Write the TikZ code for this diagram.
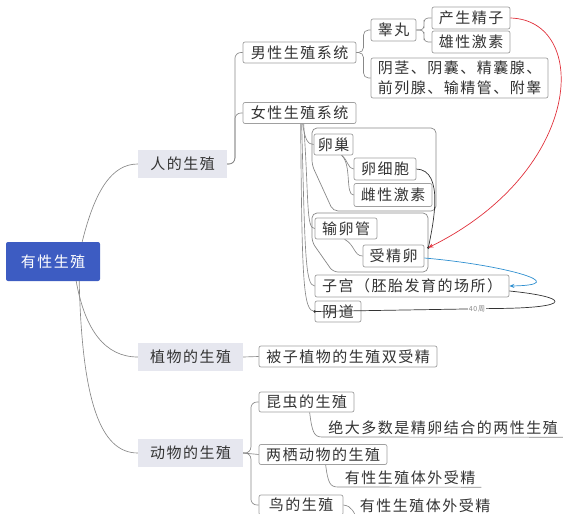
\documentclass[tikz,border=0pt]{standalone}
\usepackage{fontspec}
\newfontfamily\cjk[LetterSpace=10]{Noto Sans CJK SC}
\usetikzlibrary{calc,arrows.meta}
\definecolor{rootblue}{HTML}{3D5CC2}
\definecolor{gfill}{HTML}{E6E7EF}
\definecolor{bord}{HTML}{A0A0A0}
\definecolor{lin}{HTML}{888888}
\definecolor{txt}{HTML}{333333}
\definecolor{redl}{HTML}{E0303A}
\definecolor{bluel}{HTML}{2E8FD0}
\begin{document}
\begin{tikzpicture}[x=1pt,y=-1pt,
  every node/.style={font=\cjk\fontsize{15}{20}\selectfont, text=txt, inner sep=0pt},
  box/.style={draw=bord, fill=white, rounded corners=2pt, line width=0.7pt, minimum height=21pt},
  gbox/.style={fill=gfill, minimum height=28pt},
  rbox/.style={fill=rootblue, text=white, rounded corners=2pt, minimum width=94pt, minimum height=39pt},
  conn/.style={draw=lin, line width=0.65pt},
  bnd/.style={draw=lin, line width=0.7pt, rounded corners=5pt},
  elb/.style={to path={(\tikztostart) -| ($(\tikztostart)!0.5!(\tikztotarget)$) |- (\tikztotarget)}},
  lbl/.style={font=\cjk\fontsize{7}{8}\selectfont, text=lin, fill=white, inner sep=0.5pt}
]
\useasboundingbox (0,0) rectangle (563,514);

% boundaries
\draw[bnd] (370,128) -- (436,128) -- (436,211) -- (333,211) -- (312,165) -- (312,128) -- cycle;
\draw[bnd] (370,213) -- (428,213) -- (428,272) -- (333,272) -- (312,242) -- (312,213) -- cycle;

% nodes
\node[rbox] (root) at (53,261.5) {有性生殖};
\node[gbox, minimum width=89pt] (ren) at (182.5,164) {人的生殖};
\node[gbox, minimum width=105pt] (zhiwu) at (190.5,357) {植物的生殖};
\node[gbox, minimum width=105pt] (dongwu) at (190.5,453) {动物的生殖};

\node[box, minimum width=113pt] (nan) at (299.5,52.5) {男性生殖系统};
\node[box, minimum width=113pt] (nv) at (299.5,113) {女性生殖系统};
\node[box, minimum width=45pt, minimum height=22pt] (gaowan) at (393.5,30) {睾丸};
\node[box, minimum width=78pt, minimum height=22pt] (jingzi) at (471,18) {产生精子};
\node[box, minimum width=78pt, minimum height=22pt] (xiong) at (471,42) {雄性激素};
\node[box, align=left, minimum width=177pt, minimum height=40pt] (yinjing) at (459.5,78) {阴茎、阴囊、精囊腺、\\前列腺、输精管、附睾};

\node[box, minimum width=39pt] (luanchao) at (333.5,144.5) {卵巢};
\node[box, minimum width=62pt, minimum height=22pt] (xibao) at (385,169) {卵细胞};
\node[box, minimum width=78pt, minimum height=23pt] (ci) at (393,195) {雌性激素};
\node[box, minimum width=62pt] (shuluan) at (346,228.5) {输卵管};
\node[box, minimum width=61pt, minimum height=22pt] (shoujing) at (393.5,256) {受精卵};
\node[box, minimum width=194pt, minimum height=22pt] (zigong) at (412,286) {子宫（胚胎发育的场所）};
\node[box, minimum width=46pt] (yindao) at (338,311.5) {阴道};

\node[box, minimum width=178pt] (beizi) at (348,356.5) {被子植物的生殖双受精};
\node[box, minimum width=95pt, minimum height=20pt] (kun) at (306.5,402) {昆虫的生殖};
\node[box, minimum width=128pt, minimum height=20pt] (liang) at (323,454.5) {两栖动物的生殖};
\node[box, minimum width=84pt, minimum height=20pt] (niao) at (301,505) {鸟的生殖};
\node[minimum height=18pt] (jue) at (443,428) {绝大多数是精卵结合的两性生殖};
\node[minimum height=18pt] (ti1) at (410,478) {有性生殖体外受精};
\node[minimum height=18pt] (ti2) at (425,506) {有性生殖体外受精};

% root connectors
\draw[conn] ($(root.north east)+(-18,0)$) .. controls (95,190) and (112,164) .. (ren.west);
\draw[conn] ($(root.south east)+(-24,0)$) .. controls (85,330) and (105,357) .. (zhiwu.west);
\draw[conn] ($(root.south east)+(-21,0)$) .. controls (82,400) and (100,453) .. (dongwu.west);

% tree connectors
\draw[conn, rounded corners=6pt] (ren.east) to[elb] (nan.west);
\draw[conn, rounded corners=6pt] (ren.east) to[elb] (nv.west);
\draw[conn, rounded corners=5pt] (nan.east) to[elb] (gaowan.west);
\draw[conn, rounded corners=5pt] (nan.east) to[elb] (yinjing.west);
\draw[conn, rounded corners=4pt] (gaowan.east) to[elb] (jingzi.west);
\draw[conn, rounded corners=4pt] (gaowan.east) to[elb] (xiong.west);
\draw[conn] (zhiwu.east) -- (beizi.west);
\draw[conn, rounded corners=6pt] (dongwu.east) to[elb] (kun.west);
\draw[conn] (dongwu.east) -- (liang.west);
\draw[conn, rounded corners=6pt] (dongwu.east) to[elb] (niao.west);

% female branches
\draw[conn] ($(nv.south west)+(60,0)$) .. controls (305,140) and (308,144.5) .. (luanchao.west);
\draw[conn] ($(nv.south west)+(61,0)$) .. controls (309,200) and (306,228.5) .. (shuluan.west);
\draw[conn] ($(nv.south west)+(59,0)$) .. controls (305,250) and (305,286) .. (zigong.west);
\draw[conn] ($(nv.south west)+(58,0)$) .. controls (302,280) and (303,311.5) .. (yindao.west);

\draw[conn] ($(luanchao.south west)+(28,0)$) .. controls (348,160) and (348,169) .. (xibao.west);
\draw[conn] ($(luanchao.south west)+(28,0)$) .. controls (352,165) and (345,195) .. (ci.west);
\draw[conn] ($(shuluan.south west)+(30,0)$) .. controls (355,245) and (354,256) .. (shoujing.west);

% underline topics
\draw[conn] ($(kun.south west)+(51,0)$) .. controls (312,432) and (314,437) .. (322,437) -- ($(jue.south east)+(5,0)$);
\draw[conn] ($(liang.south west)+(67,0)$) .. controls (328,483) and (330,487) .. (338,487) -- ($(ti1.south east)+(6,0)$);
\draw[conn] (niao.east) .. controls (352,506) and (354,512) .. (358,522);

% cross links
\coordinate (fert) at ($(shoujing.north east)+(4,3)$);
\draw[draw=txt, line width=0.7pt] (xibao.east) .. controls (445,170) and (433,225) .. (fert);
\fill[txt] (fert) circle (1.4pt);
\draw[draw=redl, line width=0.7pt, -{Stealth[length=5pt,width=4pt]}] (jingzi.east) .. controls (590,20) and (585,170) .. (fert);
\draw[draw=bluel, line width=0.7pt, -{Stealth[length=5pt,width=4pt]}] ($(shoujing.east)+(0,2)$) .. controls (505,265) and (575,285) .. (zigong.east);
\draw[draw=txt, line width=0.7pt] ($(zigong.east)+(0,5)$) .. controls (570,297) and (575,308) .. (495,308.5) -- node[lbl, pos=0.1] {40周} (yindao.west);
\fill[txt] (yindao.west) circle (1.4pt);
\end{tikzpicture}
\end{document}
